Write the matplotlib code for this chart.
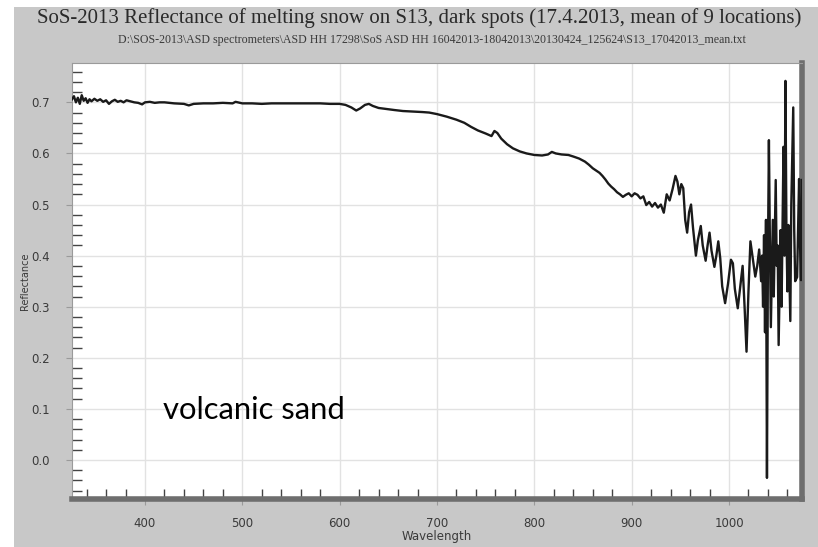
import matplotlib
matplotlib.use("Agg")
import matplotlib.pyplot as plt
from matplotlib.patches import Rectangle
from matplotlib.ticker import MultipleLocator, FormatStrFormatter

# Spectrum: wavelength (nm) and reflectance
wavelength = [
    325, 327, 329, 331, 333, 335, 337, 339, 341, 343, 345, 348, 351, 354, 357,
    360, 363, 366, 369, 372, 375, 378, 381, 385, 389, 393, 397, 400, 405, 410,
    415, 420, 430, 440, 445, 450, 460, 470, 480, 490, 493, 500, 510, 520, 530,
    540, 550, 560, 570, 580, 590, 600, 606, 612, 617, 621, 626, 630, 634, 640,
    648, 656, 665, 675, 685, 692, 700, 710, 720, 728, 735, 742, 750, 756, 759,
    762, 766, 772, 778, 785, 792, 800, 808, 814, 818, 822, 828, 835, 840, 846,
    852, 856, 860, 864, 867, 870, 873, 876, 879, 882, 885, 888, 891, 894, 897,
    900, 903, 906, 909, 912, 915, 918, 921, 924, 927, 930, 933, 936, 939, 942,
    945, 947, 949, 951, 953, 955, 957, 959, 961, 963, 966, 968, 971, 973, 976,
    978, 980, 982, 985, 987, 989, 991, 993, 996, 999, 1002, 1004, 1006, 1009,
    1011, 1014, 1016, 1018, 1020, 1022, 1024, 1027, 1029, 1031, 1033, 1034,
    1035, 1036, 1037, 1038, 1039, 1040, 1041, 1042, 1043, 1045, 1046, 1048,
    1049, 1050, 1051, 1053, 1054, 1056, 1057, 1058, 1059, 1060, 1061, 1063,
    1064, 1066, 1067, 1068, 1070, 1071, 1072, 1073, 1074, 1075,
]
reflectance = [
    0.706, 0.712, 0.700, 0.709, 0.697, 0.714, 0.703, 0.708, 0.699, 0.706, 0.702,
    0.707, 0.703, 0.706, 0.701, 0.704, 0.697, 0.702, 0.705, 0.701, 0.703, 0.700,
    0.704, 0.702, 0.700, 0.699, 0.696, 0.700, 0.701, 0.699, 0.700, 0.700, 0.698,
    0.697, 0.694, 0.697, 0.698, 0.698, 0.699, 0.698, 0.701, 0.698, 0.698, 0.697,
    0.698, 0.698, 0.698, 0.698, 0.698, 0.698, 0.697, 0.697, 0.695, 0.690, 0.684,
    0.688, 0.695, 0.697, 0.693, 0.689, 0.687, 0.685, 0.683, 0.682, 0.681, 0.680,
    0.677, 0.672, 0.666, 0.660, 0.652, 0.645, 0.639, 0.634, 0.644, 0.640, 0.629,
    0.618, 0.610, 0.604, 0.600, 0.597, 0.596, 0.598, 0.603, 0.600, 0.598, 0.597,
    0.594, 0.590, 0.584, 0.578, 0.571, 0.566, 0.562, 0.556, 0.549, 0.541, 0.535,
    0.530, 0.524, 0.520, 0.515, 0.519, 0.522, 0.516, 0.522, 0.519, 0.512, 0.516,
    0.499, 0.505, 0.496, 0.503, 0.494, 0.500, 0.484, 0.520, 0.508, 0.530, 0.556,
    0.545, 0.520, 0.540, 0.532, 0.470, 0.445, 0.485, 0.500, 0.455, 0.400, 0.430,
    0.458, 0.420, 0.390, 0.420, 0.445, 0.410, 0.378, 0.400, 0.428, 0.395, 0.340,
    0.307, 0.345, 0.392, 0.385, 0.335, 0.297, 0.330, 0.380, 0.300, 0.212, 0.330,
    0.428, 0.400, 0.359, 0.380, 0.412, 0.350, 0.400, 0.300, 0.440, 0.250, 0.470,
    -0.035, 0.400, 0.626, 0.430, 0.260, 0.470, 0.320, 0.548, 0.380, 0.420, 0.225,
    0.450, 0.300, 0.613, 0.400, 0.742, 0.450, 0.330, 0.460, 0.272, 0.500, 0.690,
    0.450, 0.350, 0.358, 0.450, 0.550, 0.420, 0.352, 0.548,
]

x_ticks = [400, 500, 600, 700, 800, 900, 1000]
y_ticks = [0.0, 0.1, 0.2, 0.3, 0.4, 0.5, 0.6, 0.7]

title = "SoS-2013 Reflectance of melting snow on S13, dark spots (17.4.2013, mean of 9 locations)"
subtitle = ("D:\\SOS-2013\\ASD spectrometers\\ASD HH 17298\\SoS ASD HH 16042013-18042013"
            "\\20130424_125624\\S13_17042013_mean.txt")
annotation = "volcanic sand"

W, H = 818, 547
fig = plt.figure(figsize=(W / 100, H / 100), dpi=100)
fig.patch.set_facecolor("white")

# grey panel behind the chart
fig.add_artist(Rectangle((14 / W, 0), 1 - 14 / W, 1 - 7 / H,
                         transform=fig.transFigure, facecolor="#c8c8c8",
                         edgecolor="none", zorder=0))

ax = fig.add_axes([72 / W, (H - 499) / H, (802 - 72) / W, (499 - 63) / H])
ax.set_facecolor("white")
ax.plot(wavelength, reflectance, color="#1a1a1a", lw=1.7, zorder=3)

ax.set_xlim(325, 1075)
ax.set_ylim(-0.0763, 0.777)
ax.set_xticks(x_ticks)
ax.set_yticks(y_ticks)
ax.yaxis.set_major_formatter(FormatStrFormatter("%.1f"))
ax.xaxis.set_minor_locator(MultipleLocator(20))
ax.yaxis.set_minor_locator(MultipleLocator(0.02))

ax.grid(True, which="major", color="#e2e2e2", lw=1.0, zorder=1)
ax.set_axisbelow(True)

ax.tick_params(axis="both", which="major", direction="out", length=4,
               width=0.8, color="#9a9a9a", labelsize=8.5, labelcolor="#3a3a3a")
ax.tick_params(axis="both", which="minor", direction="in", length=7,
               width=1.0, color="#444444")
ax.tick_params(axis="x", which="major", pad=9)
ax.tick_params(axis="y", which="major", pad=12)

for side in ("left", "top"):
    ax.spines[side].set_color("#9a9a9a")
    ax.spines[side].set_linewidth(0.8)
for side in ("right", "bottom"):
    ax.spines[side].set_color("#6e6e6e")
    ax.spines[side].set_linewidth(4)

ax.set_xlabel("Wavelength", fontsize=8.5, color="#3a3a3a", labelpad=0)
ax.set_ylabel("Reflectance", fontsize=7, color="#3a3a3a")
ax.yaxis.set_label_coords((30 - 72) / (802 - 72), 0.5)

fig.text(419 / W, 1 - 18 / H, title, ha="center", va="center",
         fontsize=15, family="Liberation Serif", color="#2a2a2a")
fig.text(432 / W, 1 - 40 / H, subtitle, ha="center", va="center",
         fontsize=8.6, family="Liberation Serif", color="#3a3a3a")

fig.text(254 / W, 1 - 410 / H, annotation, ha="center", va="center",
         fontsize=22.3, family="Lato", color="black")

fig.savefig("out.png", dpi=100)
